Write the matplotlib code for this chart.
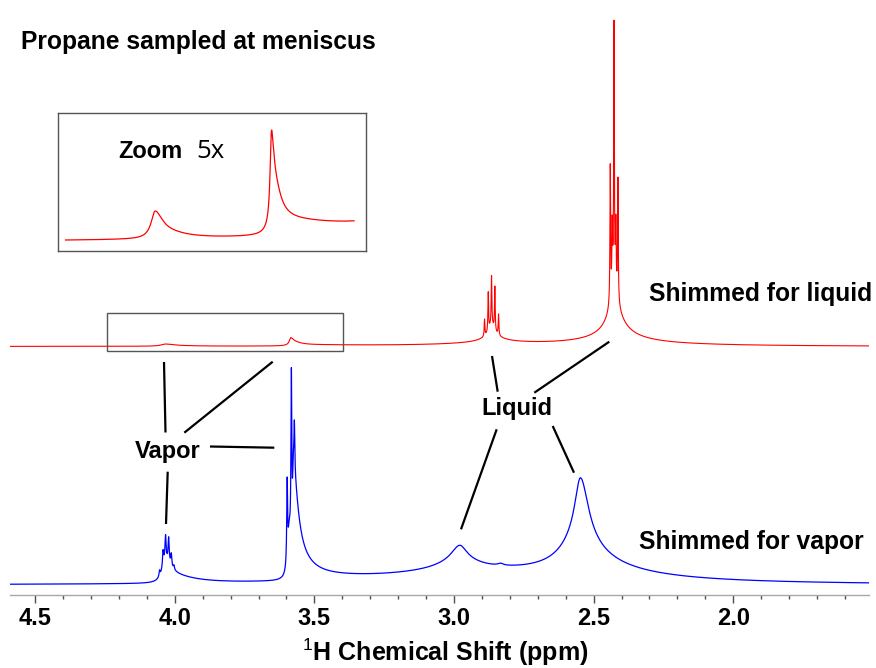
import numpy as np
import matplotlib
matplotlib.use("Agg")
import matplotlib.pyplot as plt
from matplotlib.patches import Rectangle
from matplotlib.ticker import MultipleLocator, FormatStrFormatter

plt.rcParams["font.family"] = ["Liberation Sans", "DejaVu Sans"]
plt.rcParams["mathtext.fontset"] = "custom"
plt.rcParams["mathtext.rm"] = "Liberation Sans"
plt.rcParams["mathtext.bf"] = "Liberation Sans:bold"

# ---------------------------------------------------------------
# Peak tables (ppm, height, half-width on high-ppm side, half-width on low-ppm side)
# ---------------------------------------------------------------
# Spectrum shimmed for the liquid phase
liq_center = [2.427, 2.427, 2.427, 2.427,
              2.4405, 2.4335, 2.427, 2.4205, 2.413,
              2.866, 2.866, 2.866,
              2.8907, 2.8774, 2.8656, 2.8538, 2.8405,
              4.034, 4.000,
              3.585, 3.575, 3.570]
liq_height = [35, 20, 7, 2,
              135, 60, 255, 60, 120,
              12, 5, 2,
              17, 39, 49, 44, 21,
              2.0, 0.5,
              6.0, 3.0, 1.2]
liq_wl = [0.012, 0.04, 0.12, 0.4,
          0.0013, 0.0013, 0.0013, 0.0013, 0.0013,
          0.012, 0.05, 0.2,
          0.0014, 0.0014, 0.0014, 0.0014, 0.0014,
          0.018, 0.03,
          0.006, 0.01, 0.02]
liq_wr = [0.014, 0.045, 0.13, 0.4,
          0.0013, 0.0013, 0.0013, 0.0013, 0.0013,
          0.014, 0.06, 0.2,
          0.0014, 0.0014, 0.0014, 0.0014, 0.0014,
          0.03, 0.1,
          0.008, 0.03, 0.3]

# Spectrum shimmed for the vapor phase
vap_center = [4.035, 4.020,
              4.0545, 4.042, 4.033, 4.022, 4.0125, 4.003,
              3.575, 3.575, 3.575, 3.590,
              3.5975, 3.5824, 3.5717,
              2.980, 2.975, 2.833,
              2.547, 2.560, 2.580,
              2.900]
vap_height = [20, 8,
              6, 15, 24, 23, 12, 4,
              80, 20, 4, 40,
              82, 170, 50,
              15, 10, 2,
              66, 25, 9,
              12]
vap_wl = [0.013, 0.01,
          0.0022, 0.0022, 0.0022, 0.0022, 0.0022, 0.0022,
          0.004, 0.004, 0.01, 0.006,
          0.0018, 0.0018, 0.0018,
          0.035, 0.1, 0.012,
          0.025, 0.07, 0.15,
          0.4]
vap_wr = [0.02, 0.1,
          0.0022, 0.0022, 0.0022, 0.0022, 0.0022, 0.0022,
          0.02, 0.06, 0.3, 0.006,
          0.0018, 0.0018, 0.0018,
          0.03, 0.08, 0.012,
          0.035, 0.12, 0.3,
          0.4]

tick_values = [4.5, 4.0, 3.5, 3.0, 2.5, 2.0]


def spectrum(ppm, centers, heights, wl, wr):
    total = np.zeros_like(ppm)
    for c, h, a, b in zip(centers, heights, wl, wr):
        w = np.where(ppm >= c, a, b)
        total += h / (1.0 + ((ppm - c) / w) ** 2)
    return total


ppm = np.linspace(4.59, 1.515, 24000)
liquid = spectrum(ppm, liq_center, liq_height, liq_wl, liq_wr)
vapor = spectrum(ppm, vap_center, vap_height, vap_wl, vap_wr)

# ---------------------------------------------------------------
# Figure layout (pixel helpers)
# ---------------------------------------------------------------
W, H = 876, 668
fig = plt.figure(figsize=(W / 100, H / 100), dpi=100)


def fx(px):
    return px / W


def fy(py):
    return 1 - py / H


axis_y = 594.7
ax = fig.add_axes([fx(10), fy(axis_y), fx(868.7) - fx(10), axis_y / H])
ax.set_xlim(4.59, 1.515)
ax.set_ylim(0, axis_y)

vapor_offset = 9.7
liquid_offset = 248.2
ax.plot(ppm, vapor + vapor_offset, color="#0000ff", lw=0.9)
ax.plot(ppm, liquid + liquid_offset, color="#ff0000", lw=0.8)

for side in ("top", "left", "right"):
    ax.spines[side].set_visible(False)
ax.spines["bottom"].set_color("#a8a8a8")
ax.spines["bottom"].set_linewidth(1.0)
ax.set_yticks([])
ax.set_xticks(tick_values)
ax.xaxis.set_major_formatter(FormatStrFormatter("%.1f"))
ax.xaxis.set_minor_locator(MultipleLocator(0.1))
ax.tick_params(axis="x", which="major", length=6, width=1, color="#505050",
               pad=3, labelsize=17)
ax.tick_params(axis="x", which="minor", length=3, width=1, color="#505050")
for lab in ax.get_xticklabels():
    lab.set_fontweight("bold")
ax.patch.set_alpha(0)

# ---------------------------------------------------------------
# Zoomed view of the small liquid-shimmed signals
# ---------------------------------------------------------------
ins = fig.add_axes([fx(58.3), fy(251), fx(365.7) - fx(58.3), (251 - 113.3) / H])
ins.set_xlim(4.407, 3.221)
sel = (ppm <= 4.379) & (ppm >= 3.266)
ins.plot(ppm[sel], liquid[sel], color="#ff0000", lw=0.9)
v_left = liquid[sel][0]
v_peak = liquid[(ppm <= 3.62) & (ppm >= 3.55)].max()
scale = (240 - 130) / (v_peak - v_left)
y_lo = v_left - (251 - 240) / scale
ins.set_ylim(y_lo, y_lo + (251 - 113.3) / scale)
ins.set_xticks([])
ins.set_yticks([])
for s in ins.spines.values():
    s.set_color("#555555")
    s.set_linewidth(1.0)

# ---------------------------------------------------------------
# Annotation layer in pixel coordinates
# ---------------------------------------------------------------
ov = fig.add_axes([0, 0, 1, 1])
ov.set_xlim(0, W)
ov.set_ylim(H, 0)
ov.axis("off")

ov.add_patch(Rectangle((106.7, 313), 236.6, 37.7, fill=False,
                       ec="#555555", lw=1.0))

callouts = [
    [(164.0, 362.0), (165.5, 432.5)],
    [(272.7, 361.7), (184.3, 432.7)],
    [(210.0, 446.5), (274.3, 447.7)],
    [(167.7, 471.7), (166.0, 524.0)],
    [(492.0, 356.0), (497.7, 391.7)],
    [(609.3, 341.7), (534.3, 392.7)],
    [(496.7, 429.3), (461.0, 529.3)],
    [(552.7, 426.0), (574.0, 472.7)],
]
for (x0, y0), (x1, y1) in callouts:
    ov.plot([x0, x1], [y0, y1], color="black", lw=1.6, solid_capstyle="butt")

bold = dict(fontweight="bold", va="baseline", ha="left", color="black")
ov.text(20.7, 49.3, "Propane sampled at meniscus", fontsize=17.7, **bold)
ov.text(118, 158.3, "Zoom", fontsize=17, **bold)
ov.text(196, 158.3, "5x", fontsize=18.5, family=["Open Sans", "DejaVu Sans"],
        va="baseline", ha="left", color="black")
ov.text(135, 458.3, "Vapor", fontsize=17, **bold)
ov.text(481.7, 415.3, "Liquid", fontsize=17, **bold)
ov.text(649.3, 300.7, "Shimmed for liquid", fontsize=17.7, **bold)
ov.text(639.3, 549.3, "Shimmed for vapor", fontsize=17.7, **bold)
ov.text(445, 661, r"$^{\mathrm{1}}$H Chemical Shift (ppm)", fontsize=18,
        fontweight="bold", ha="center", va="baseline", color="black")

fig.savefig("out.png", dpi=100)
